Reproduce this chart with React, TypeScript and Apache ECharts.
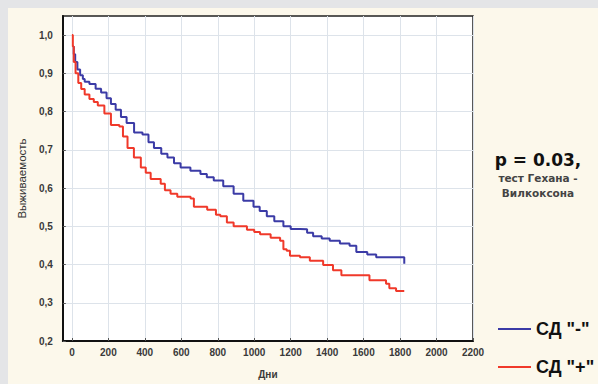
import React, { useEffect, useRef } from "react";
import * as echarts from "echarts";

const xTicks = [0, 200, 400, 600, 800, 1000, 1200, 1400, 1600, 1800, 2000, 2200];
const yTicks = [0.2, 0.3, 0.4, 0.5, 0.6, 0.7, 0.8, 0.9, 1.0];

const seriesNames = ['СД "-"', 'СД "+"'];

const blueData: [number, number][] = [
  [5, 0.97], [10, 0.95], [18, 0.93], [30, 0.91], [45, 0.895], [60, 0.885], [70, 0.878],
  [96, 0.872], [130, 0.86], [160, 0.85], [190, 0.835], [214, 0.82], [240, 0.805],
  [269, 0.786], [300, 0.77], [341, 0.745], [387, 0.74], [420, 0.72], [450, 0.705],
  [490, 0.69], [524, 0.68], [560, 0.665], [596, 0.654], [650, 0.645], [705, 0.637],
  [740, 0.628], [778, 0.62], [830, 0.605], [887, 0.585], [940, 0.567], [996, 0.551],
  [1030, 0.54], [1069, 0.526], [1110, 0.513], [1160, 0.5], [1200, 0.493], [1251, 0.492],
  [1290, 0.483], [1323, 0.474], [1370, 0.468], [1414, 0.462], [1470, 0.455], [1523, 0.449],
  [1560, 0.433], [1620, 0.426], [1669, 0.419], [1823, 0.419], [1823, 0.402],
];

const redData: [number, number][] = [
  [0, 1.0], [5, 0.97], [10, 0.93], [20, 0.9], [35, 0.875], [51, 0.859], [70, 0.845],
  [96, 0.833], [120, 0.825], [142, 0.816], [178, 0.795], [214, 0.765], [260, 0.761],
  [280, 0.735], [305, 0.705], [340, 0.68], [378, 0.654], [405, 0.64], [432, 0.624],
  [487, 0.611], [510, 0.594], [541, 0.585], [578, 0.577], [651, 0.573], [669, 0.551],
  [742, 0.543], [790, 0.53], [814, 0.526], [850, 0.51], [887, 0.5], [960, 0.491],
  [1000, 0.485], [1032, 0.479], [1090, 0.47], [1142, 0.462], [1160, 0.44], [1178, 0.436],
  [1196, 0.423], [1251, 0.419], [1305, 0.41], [1378, 0.399], [1432, 0.385], [1478, 0.372],
  [1614, 0.372], [1632, 0.359], [1723, 0.35], [1741, 0.338], [1778, 0.331], [1823, 0.331],
];

const BLUE = "#3b3ba6";
const RED = "#f0392a";

export default function App() {
  const ref = useRef<HTMLDivElement>(null);
  useEffect(() => {
    if (!ref.current) return;
    const chart = echarts.init(ref.current, null, { renderer: "svg" });
    const labelStyle = {
      color: "#3a3a3a",
      fontSize: 10,
      fontWeight: "bold" as const,
      fontFamily: "Liberation Sans, Arial, sans-serif",
    };
    chart.setOption({
      animation: false,
      backgroundColor: "#fcf8eb",
      grid: {
        left: 54,
        top: 8,
        width: 411,
        height: 331,
        show: true,
        backgroundColor: "#ffffff",
        borderColor: "#222",
        borderWidth: 1.5,
      },
      xAxis: {
        type: "value",
        min: -50,
        max: 2200,
        name: "Дни",
        nameLocation: "middle",
        nameGap: 28,
        nameTextStyle: { ...labelStyle, fontSize: 10 },
        axisLine: { show: true, onZero: false, lineStyle: { color: "#111", width: 2 } },
        axisTick: { show: true, inside: true, length: 3, customValues: xTicks, lineStyle: { color: "#555" } },
        axisLabel: { ...labelStyle, margin: 6, customValues: xTicks, formatter: (v: number) => String(v) },
        splitLine: { show: true, lineStyle: { color: "#dde3ea", width: 1 } },
      },
      yAxis: {
        type: "value",
        min: 0.2,
        max: 1.05,
        interval: 0.1,
        name: "Выживаемость",
        nameLocation: "middle",
        nameGap: 34,
        nameRotate: 90,
        nameTextStyle: { color: "#333", fontSize: 11.5, fontFamily: "Liberation Sans, Arial, sans-serif" },
        axisLine: { show: true, onZero: false, lineStyle: { color: "#111", width: 2 } },
        axisTick: { show: true, inside: true, length: 3, customValues: yTicks, lineStyle: { color: "#555" } },
        axisLabel: {
          ...labelStyle,
          margin: 10,
          customValues: yTicks,
          formatter: (v: number) => (v > 1.001 ? "" : v.toFixed(1).replace(".", ",")),
        },
        splitLine: { show: true, lineStyle: { color: "#dde3ea", width: 1 } },
      },
      legend: {
        orient: "vertical",
        left: 485,
        top: 307,
        itemWidth: 33,
        itemHeight: 16,
        itemGap: 20,
        icon: "path://M0,7L33,7L33,9L0,9Z",
        data: seriesNames,
        textStyle: {
          color: "#111",
          fontSize: 18,
          fontWeight: "bold",
          fontFamily: "Liberation Sans, Arial, sans-serif",
        },
      },
      graphic: [
        {
          type: "text",
          x: 530,
          y: 152,
          style: {
            text: "p = 0.03,",
            fill: "#111",
            align: "center",
            verticalAlign: "middle",
            font: "bold 17px 'DejaVu Sans', sans-serif",
          },
        },
        {
          type: "text",
          x: 530,
          y: 170,
          style: {
            text: "тест Гехана -",
            fill: "#444",
            align: "center",
            verticalAlign: "middle",
            font: "bold 10.5px 'DejaVu Sans', sans-serif",
          },
        },
        {
          type: "text",
          x: 530,
          y: 185,
          style: {
            text: "Вилкоксона",
            fill: "#444",
            align: "center",
            verticalAlign: "middle",
            font: "bold 10.5px 'DejaVu Sans', sans-serif",
          },
        },
      ],
      series: [
        {
          name: seriesNames[0],
          type: "line",
          step: "end",
          showSymbol: false,
          symbol: "none",
          data: blueData,
          lineStyle: { color: BLUE, width: 2 },
          itemStyle: { color: BLUE },
        },
        {
          name: seriesNames[1],
          type: "line",
          step: "end",
          showSymbol: false,
          symbol: "none",
          data: redData,
          lineStyle: { color: RED, width: 2 },
          itemStyle: { color: RED },
        },
      ],
    });
    return () => chart.dispose();
  }, []);
  return (
    <div style={{ position: "fixed", left: 0, top: 0, width: 598, height: 384, background: "#e4e5e7" }}>
      <div ref={ref} style={{ position: "absolute", left: 8, top: 8, width: 590, height: 376 }} />
    </div>
  );
}
